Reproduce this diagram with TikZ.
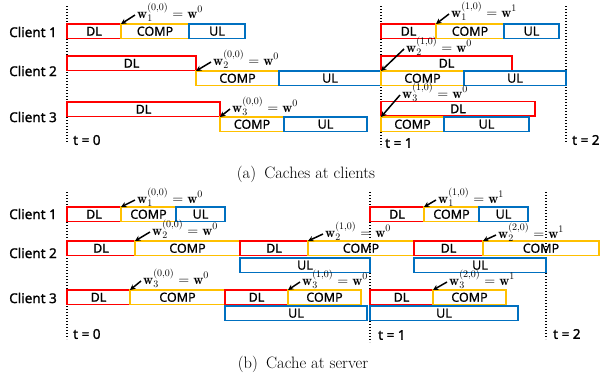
\documentclass[tikz,border=0pt]{standalone}
\usepackage{amsmath}
\usepackage{fontspec}
\usepackage{tikz}
\usetikzlibrary{arrows.meta,positioning}
\newfontfamily\segface{Noto Sans}[FakeBold=0.7]
\newfontfamily\clientface{Noto Sans}[FakeBold=1.3]
\definecolor{dlred}{RGB}{255,0,0}
\definecolor{compgold}{RGB}{255,192,0}
\definecolor{ulblue}{RGB}{0,112,192}
\newcommand\segfont{\segface\fontsize{12.5}{14}\selectfont}
\newcommand\clientfont{\clientface\fontsize{13.5}{15}\selectfont}

\begin{document}
\begin{tikzpicture}[x=1pt,y=-1pt,>=Stealth,
  seg/.style={anchor=north west,inner sep=0pt,outer sep=0pt,minimum height=14.5pt,line width=1.6pt,font=\segfont},
  dlbox/.style={seg,draw=dlred},
  compbox/.style={seg,draw=compgold},
  ulbox/.style={seg,draw=ulblue},
  client/.style={anchor=east,inner sep=0pt,font=\clientfont},
  tlbl/.style={anchor=west,inner sep=0pt,font=\clientfont},
  tline/.style={line width=1.3pt,dash pattern=on 1.3pt off 1.7pt},
  wlbl/.style={anchor=base west,inner sep=0pt,font=\fontsize{14}{16}\selectfont},
  wtip/.style={->,line width=1.5pt,-{Stealth[length=5.5pt,width=5.5pt]}},
  caption/.style={font=\fontsize{16.5}{18}\selectfont}]
\useasboundingbox (0,0) rectangle (600,381);

% time marks
\foreach \x/\ya/\yb in {67/6/143,381/6/147,566/6/142,67/192/339,370/192/342,546/192/339}
  \draw[tline] (\x,\ya) -- (\x,\yb);
\foreach \n/\x/\y/\t in {ta0/73/140/0,ta1/385/143/1,ta2/572/140/2,tb0/73/334/0,tb1/378/335/1,tb2/553/334/2}
  \node[tlbl] (\n) at (\x,\y) {t = \t};

% client rows
\foreach \n/\y/\c in {ca1/32/1,ca2/71/2,ca3/117/3,cb1/214/1,cb2/253/2,cb3/298/3}
  \node[client] (\n) at (57,\y) {Client \c};

% DL / COMP / UL slots: name/left/right/top/style/text
\foreach \nm/\xa/\xb/\yt/\st/\tx in {
  a1d0/67/121/24/dlbox/DL, a1c0/121/189/24/compbox/COMP, a1u0/189/245/24/ulbox/UL,
  a1d1/381/436/24/dlbox/DL, a1c1/436/504/24/compbox/COMP, a1u1/504/559/24/ulbox/UL,
  a2d0/67/196/56/dlbox/DL, a2c0/196/279/71/compbox/COMP, a2u0/279/381/71/ulbox/UL,
  a2d1/381/512/56/dlbox/DL, a2c1/381/464/71/compbox/COMP, a2u1/464/566/71/ulbox/UL,
  a3d0/67/220/102/dlbox/DL, a3c0/220/284/117/compbox/COMP, a3u0/284/367/117/ulbox/UL,
  a3d1/381/535/101.5/dlbox/DL, a3c1/381/444/117/compbox/COMP, a3u1/444/529/117/ulbox/UL,
  b1d0/67/121/207/dlbox/DL, b1c0/121/176/207/compbox/COMP, b1u0/176/225/207/ulbox/UL,
  b1d1/370/424/207/dlbox/DL, b1c1/424/479/207/compbox/COMP, b1u1/479/528/207/ulbox/UL,
  b2d0/67/135/241/dlbox/DL, b2c0/135/240/241/compbox/COMP,
  b2d1/240/308/241/dlbox/DL, b2c1/308/414/241/compbox/COMP,
  b2d2/414/483/241/dlbox/DL, b2c2/483/599/241/compbox/COMP,
  b2u1/240/370/258/ulbox/UL, b2u2/414/546/258/ulbox/UL,
  b3d0/67/130/290/dlbox/DL, b3c0/130/225/290/compbox/COMP,
  b3d1/225/288/290/dlbox/DL, b3c1/288/361/290/compbox/COMP,
  b3d2/370/433/290/dlbox/DL, b3c2/433/506/290/compbox/COMP,
  b3u1/225/367/306/ulbox/UL, b3u2/370/518/306/ulbox/UL}{
  \pgfmathsetmacro\slotw{\xb-\xa}
  \node[\st,minimum width=\slotw pt] (\nm) at (\xa,\yt) {\tx};
}

% cached models
\foreach \nm/\x/\y/\tgt/\k/\r/\v in {
  wa1/137/18/a1c0/1/{0,0}/0, wa2/213/65/a2c0/2/{0,0}/0, wa3/232/112/a3c0/3/{0,0}/0,
  wa4/451/17/a1c1/1/{1,0}/1, wa5/406/52/a2c1/2/{1,0}/0, wa6/402/98/a3c1/3/{1,0}/0,
  wb1/137/203/b1c0/1/{0,0}/0, wb2/152/235/b2c0/2/{0,0}/0, wb3/143/284/b3c0/3/{0,0}/0,
  wb4/438/203/b1c1/1/{1,0}/1, wb5/325/237/b2c1/2/{1,0}/0, wb6/498/238/b2c2/2/{2,0}/1,
  wb7/302/285/b3c1/3/{1,0}/0, wb8/449/285/b3c2/3/{2,0}/1}{
  \node[wlbl] (\nm) at (\x,\y) {$\mathbf{w}_{\k}^{(\r)}=\mathbf{w}^{\v}$};
  \draw[wtip] ([shift={(-2pt,3pt)}]\nm.base west) -- (\tgt.north west);
}

\node[caption] (capa) at (306,174) {(a)\enspace Caches at clients};
\node[caption] (capb) at (303,364) {(b)\enspace Cache at server};
\end{tikzpicture}
\end{document}
